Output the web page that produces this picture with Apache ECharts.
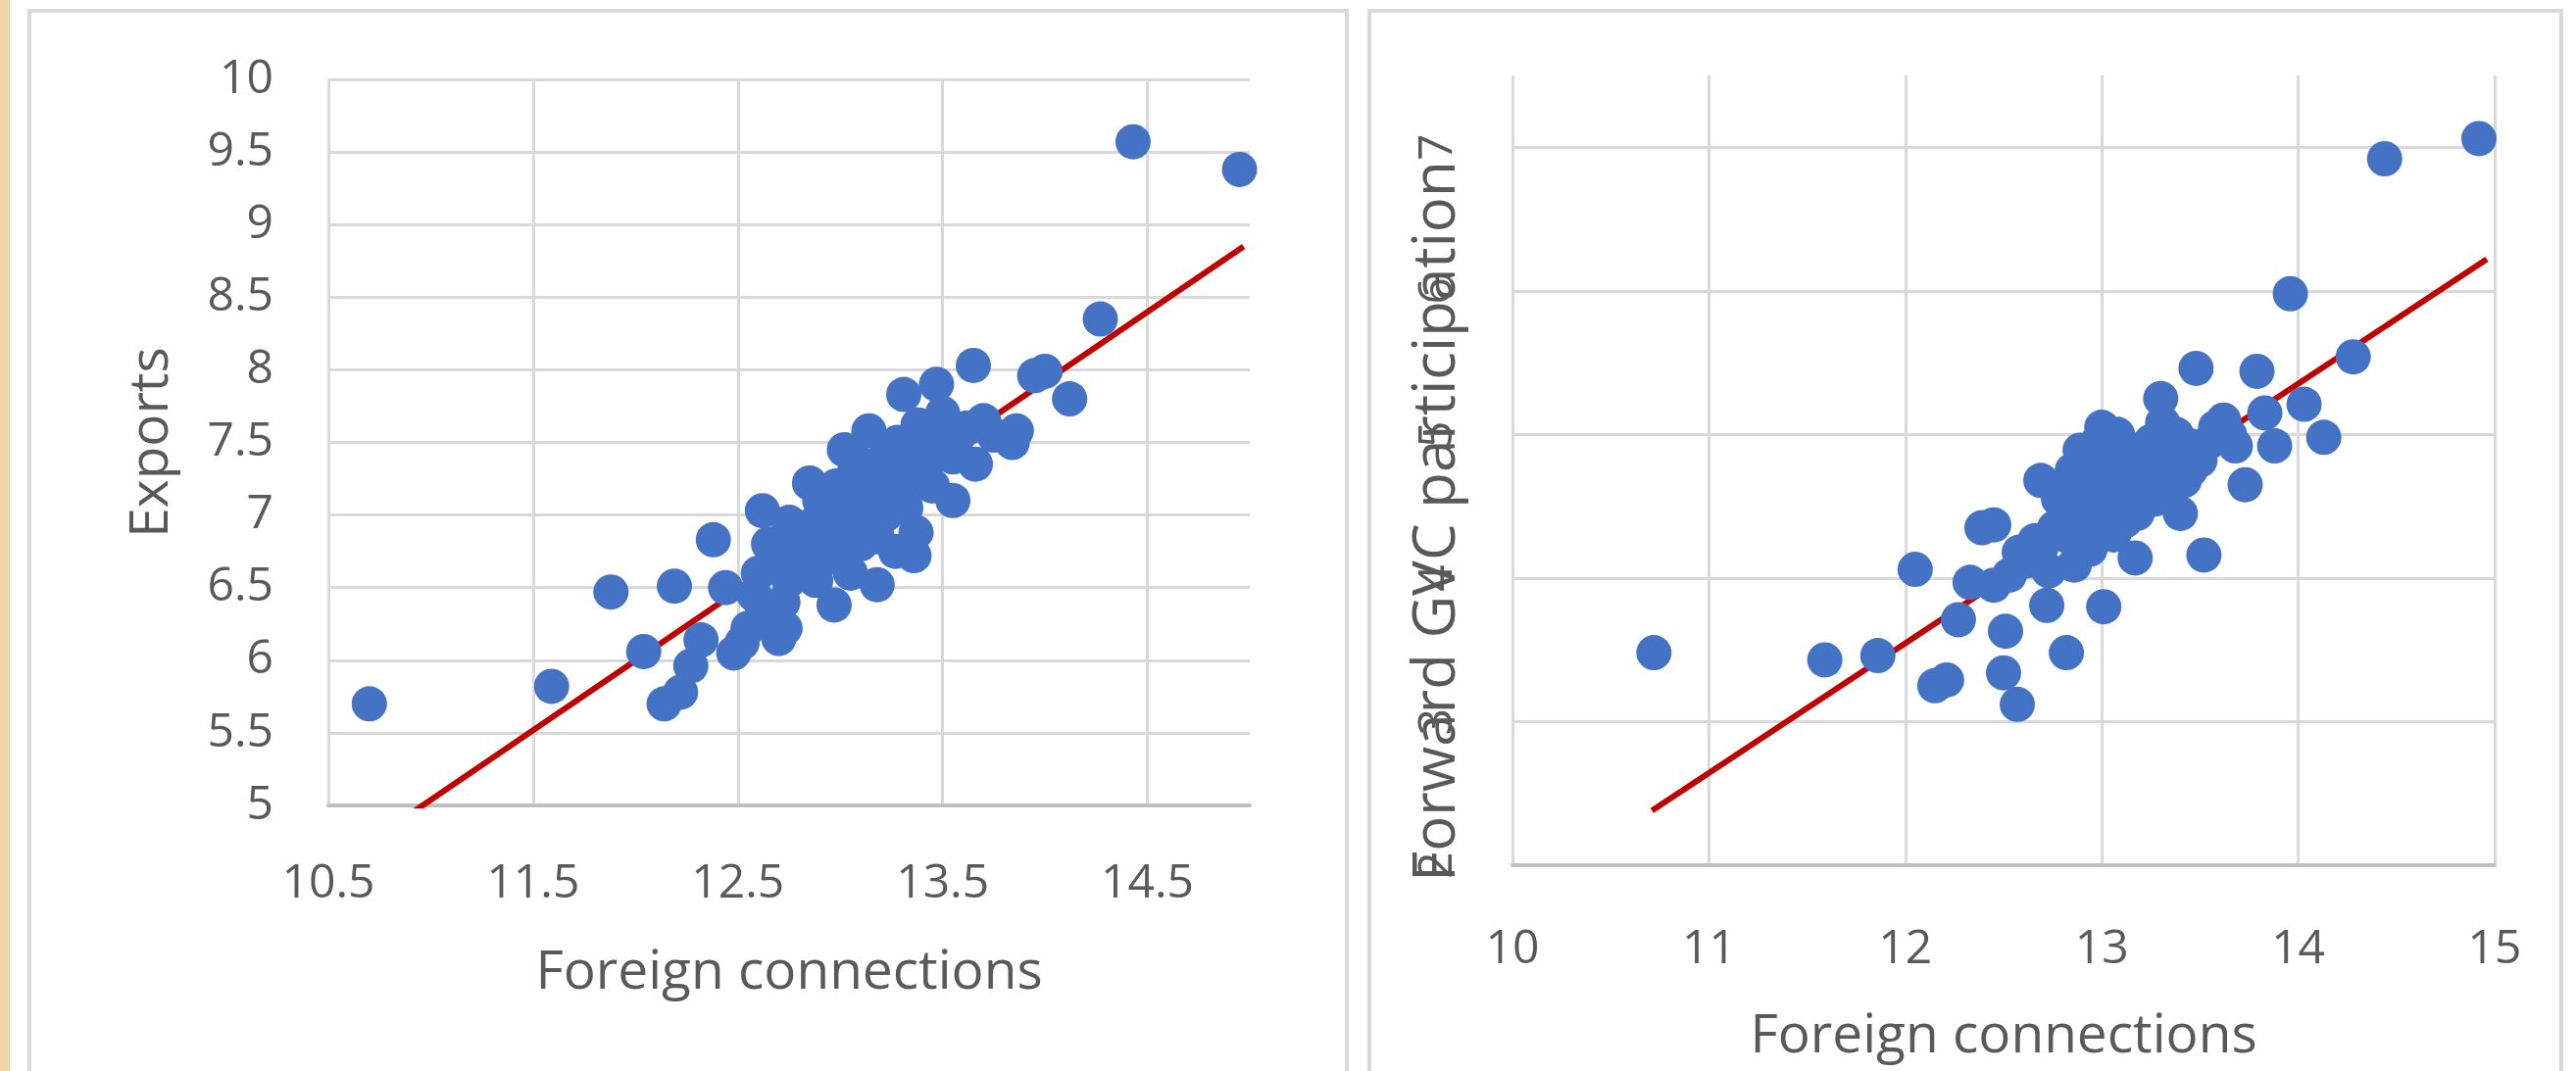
<!DOCTYPE html>
<html><head><meta charset="utf-8">
<script src="https://cdn.jsdelivr.net/npm/echarts@6/dist/echarts.min.js"></script>
<style>html,body{margin:0;padding:0;background:#fff;}#c{width:2628px;height:1093px;}</style>
</head><body><div id="c"></div>
<script>
// Left panel: Foreign connections vs Exports
const foreignA = [10.70, 11.59, 11.88, 12.04, 12.19, 12.14, 12.22, 12.27, 12.32, 12.38, 12.44, 12.48, 12.52, 12.55, 12.58, 12.60, 12.62, 12.65, 12.68, 12.70, 12.73, 12.72, 12.75, 12.78, 12.80, 12.83, 12.85, 12.88, 12.90, 12.92, 12.95, 12.97, 12.98, 13.00, 13.02, 13.03, 13.05, 13.07, 13.08, 13.10, 13.12, 13.14, 13.15, 13.18, 13.20, 13.22, 13.25, 13.27, 13.30, 13.31, 13.33, 13.36, 13.37, 13.38, 13.40, 13.42, 13.45, 13.47, 13.50, 13.55, 13.58, 13.62, 13.65, 13.66, 13.70, 13.75, 13.84, 13.86, 13.95, 14.00, 14.12, 14.27, 14.43, 14.95,
  12.75, 12.85, 12.95, 13.00, 13.05, 13.10, 13.15, 13.18, 13.22, 13.28, 13.32, 13.35, 13.45, 13.50, 13.55, 12.68, 12.62, 12.88];
const exportsVals = [5.70, 5.82, 6.47, 6.06, 6.51, 5.70, 5.78, 5.96, 6.14, 6.83, 6.50, 6.05, 6.12, 6.22, 6.45, 6.60, 7.03, 6.80, 6.30, 6.15, 6.22, 6.40, 6.55, 6.70, 6.88, 6.62, 7.22, 6.95, 7.10, 6.75, 6.85, 6.38, 7.20, 7.00, 7.45, 6.92, 6.60, 7.30, 7.05, 6.80, 7.15, 7.58, 6.95, 6.52, 7.25, 7.40, 7.10, 6.75, 7.20, 7.83, 7.35, 6.72, 6.88, 7.62, 7.28, 7.48, 7.40, 7.90, 7.70, 7.10, 7.55, 7.60, 8.03, 7.35, 7.65, 7.55, 7.50, 7.58, 7.96, 7.99, 7.80, 8.35, 9.57, 9.38,
  6.95, 6.75, 7.05, 6.70, 7.20, 7.35, 7.25, 6.85, 7.00, 7.50, 7.05, 7.45, 7.20, 7.50, 7.40, 6.65, 6.35, 6.55];
const exportsTrendX = [10.70, 14.97];
const exportsTrendY = [4.75, 8.85];

// Right panel: Foreign connections vs Forward GVC participation
const foreignB = [10.72, 11.59, 11.86, 12.05, 12.15, 12.21, 12.27, 12.33, 12.39, 12.45, 12.45, 12.50, 12.51, 12.53, 12.57, 12.58, 12.62, 12.66, 12.69, 12.69, 12.72, 12.73, 12.76, 12.78, 12.81, 12.82, 12.83, 12.85, 12.86, 12.89, 12.90, 12.92, 12.94, 12.96, 12.96, 12.98, 13.01, 13.02, 13.03, 13.05, 13.06, 13.08, 13.10, 13.11, 13.14, 13.17, 13.18, 13.20, 13.22, 13.25, 13.27, 13.30, 13.31, 13.33, 13.36, 13.40, 13.42, 13.45, 13.48, 13.50, 13.52, 13.55, 13.58, 13.62, 13.65, 13.68, 13.73, 13.79, 13.83, 13.88, 13.96, 14.03, 14.13, 14.28, 14.44, 14.92,
  12.95, 13.00, 13.05, 13.12, 13.15, 13.20, 13.25, 13.30, 13.35, 13.38, 13.45, 12.88, 12.92, 13.00, 12.80];
const gvcVals = [3.48, 3.43, 3.46, 4.06, 3.25, 3.29, 3.71, 3.97, 4.35, 4.37, 3.95, 3.34, 3.63, 4.02, 3.12, 4.18, 4.12, 4.26, 4.68, 4.21, 3.81, 4.05, 4.35, 4.55, 4.30, 3.48, 4.50, 4.75, 4.09, 4.89, 4.60, 4.38, 4.20, 4.50, 4.71, 4.95, 3.80, 4.62, 4.40, 4.85, 4.30, 5.00, 4.55, 4.72, 4.90, 4.14, 4.45, 4.62, 4.80, 4.95, 4.55, 5.25, 5.08, 4.72, 4.88, 4.45, 4.68, 4.92, 5.46, 4.82, 4.16, 4.95, 5.05, 5.10, 5.00, 4.92, 4.65, 5.44, 5.15, 4.92, 5.98, 5.21, 4.98, 5.54, 6.92, 7.06,
  4.85, 4.55, 4.65, 4.40, 4.60, 4.85, 4.70, 4.85, 4.60, 5.00, 4.75, 4.40, 4.70, 5.05, 4.62];
const gvcTrendX = [10.71, 14.96];
const gvcTrendY = [2.38, 6.22];

const xTitle = 'Foreign connections';
const yTitleA = 'Exports';
const yTitleB = 'Forward GVC participation';

const zip = (xs, ys) => xs.map((x, i) => [x, ys[i]]);

const FONT = '"Open Sans", "Noto Sans", sans-serif';
const GRAY = '#595959';
const GRID_COLOR = '#D9D9D9';
const labelBase = {color: GRAY, fontFamily: FONT, fontSize: 48};
const nameBase = {color: GRAY, fontFamily: FONT, fontSize: 55};

const chart = echarts.init(document.getElementById('c'));
chart.setOption({
  animation: false,
  backgroundColor: '#ffffff',
  graphic: [
    {type: 'rect', shape: {x: 0, y: 0, width: 10, height: 1093}, style: {fill: '#F0D6A6'}, z: 0},
    {type: 'rect', shape: {x: 30, y: 11, width: 1344, height: 1100}, style: {fill: 'none', stroke: '#D9D9D9', lineWidth: 4}, z: 0},
    {type: 'rect', shape: {x: 1397, y: 11, width: 1216, height: 1100}, style: {fill: 'none', stroke: '#D9D9D9', lineWidth: 4}, z: 0}
  ],
  grid: [
    {left: 335, top: 81, width: 940, height: 741},
    {left: 1543, top: 77, width: 1002, height: 806}
  ],
  xAxis: [
    {
      gridIndex: 0, type: 'value', min: 10.5, max: 15, interval: 1,
      axisLine: {show: true, lineStyle: {color: '#BFBFBF', width: 4}},
      axisTick: {show: false},
      axisLabel: Object.assign({}, labelBase, {margin: 56, showMaxLabel: false}),
      splitLine: {show: true, showMaxLine: false, lineStyle: {color: GRID_COLOR, width: 3}},
      name: xTitle, nameLocation: 'middle', nameGap: 144, nameMoveOverlap: false, nameTextStyle: nameBase
    },
    {
      gridIndex: 1, type: 'value', min: 10, max: 15, interval: 1,
      axisLine: {show: true, lineStyle: {color: '#BFBFBF', width: 4}},
      axisTick: {show: false},
      axisLabel: Object.assign({}, labelBase, {margin: 62}),
      splitLine: {show: true, lineStyle: {color: GRID_COLOR, width: 3}},
      name: xTitle, nameLocation: 'middle', nameGap: 148, nameMoveOverlap: false, nameTextStyle: nameBase
    }
  ],
  yAxis: [
    {
      gridIndex: 0, type: 'value', min: 5, max: 10, interval: 0.5,
      axisLine: {show: false}, axisTick: {show: false},
      axisLabel: Object.assign({}, labelBase, {margin: 56}),
      splitLine: {show: true, lineStyle: {color: GRID_COLOR, width: 3}},
      name: yTitleA, nameLocation: 'middle', nameRotate: 90, nameGap: 152, nameMoveOverlap: false, nameTextStyle: nameBase
    },
    {
      gridIndex: 1, type: 'value', min: 2, max: 7.5, interval: 1,
      axisLine: {show: false}, axisTick: {show: false},
      axisLabel: Object.assign({}, labelBase, {margin: 52, rotate: 90, showMaxLabel: false}),
      splitLine: {show: true, showMaxLine: false, lineStyle: {color: GRID_COLOR, width: 3}},
      name: yTitleB, nameLocation: 'middle', nameRotate: 90, nameGap: 46, nameMoveOverlap: false,
      nameTextStyle: Object.assign({}, nameBase, {fontSize: 60, padding: [0, 104, 0, 0]})
    }
  ],
  series: [
    {type: 'line', xAxisIndex: 0, yAxisIndex: 0, data: zip(exportsTrendX, exportsTrendY), symbol: 'none', clip: true,
     lineStyle: {color: '#C00000', width: 6}, z: 2, silent: true},
    {type: 'scatter', xAxisIndex: 0, yAxisIndex: 0, data: zip(foreignA, exportsVals), symbolSize: 36,
     itemStyle: {color: '#4472C4', opacity: 1}, z: 3},
    {type: 'line', xAxisIndex: 1, yAxisIndex: 1, data: zip(gvcTrendX, gvcTrendY), symbol: 'none', clip: true,
     lineStyle: {color: '#C00000', width: 6}, z: 2, silent: true},
    {type: 'scatter', xAxisIndex: 1, yAxisIndex: 1, data: zip(foreignB, gvcVals), symbolSize: 36,
     itemStyle: {color: '#4472C4', opacity: 1}, z: 3}
  ]
});
</script>
</body></html>
